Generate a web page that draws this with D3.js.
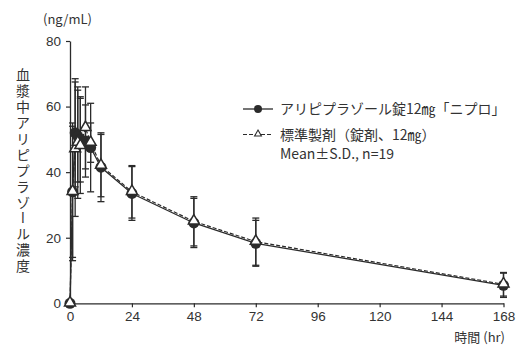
<!DOCTYPE html>
<html><head><meta charset="utf-8">
<script src="https://cdn.jsdelivr.net/npm/d3@7"></script>
<style>
html,body{margin:0;padding:0;background:#fff;}
svg text{font-family:"Noto Sans CJK JP","Noto Sans",sans-serif;fill:#333;}
</style></head>
<body>
<svg id="c" width="531" height="357"></svg>
<script>
const times = [0, 1, 2, 3, 4, 6, 8, 12, 24, 48, 72, 168];
const testMean = [0, 34, 52, 51, 50, 49.5, 47.5, 41.5, 33.5, 24.5, 18.3, 5.5];
const testSD   = [0, 20, 16.5, 14, 13, 11, 13.5, 10.5, 8.2, 7.5, 7.0, 3.7];
const refMean  = [0, 34, 47, 49, 48, 53.5, 49, 42, 34, 25, 18.8, 5.8];
const refSD    = [0, 21, 20.5, 17, 14.5, 12.5, 6, 9.5, 8, 7.5, 7.2, 3.6];
const xTicks = [0, 24, 48, 72, 96, 120, 144, 168];
const yTicks = [0, 20, 40, 60, 80];
const legendLabels = ["アリピプラゾール錠12㎎「ニプロ」", "標準製剤（錠剤、12㎎）", "Mean±S.D., n=19"];
const yTitle = "血漿中アリピプラゾール濃度";
const yUnit = "(ng/mL)";
const xTitle = "時間 (hr)";

const svg = d3.select("#c");
const ink = "#2b2b2b";
const x = d3.scaleLinear().domain([0, 168]).range([70, 503.5]);
const y = d3.scaleLinear().domain([0, 80]).range([303.3, 41]);

// axes
const gx = svg.append("g").attr("transform", `translate(0,${y(0)})`)
  .call(d3.axisBottom(x).tickValues(xTicks).tickSize(4).tickSizeOuter(0).tickPadding(4));
const gy = svg.append("g").attr("transform", `translate(${x(0)},0)`)
  .call(d3.axisLeft(y).tickValues(yTicks).tickSize(4).tickSizeOuter(0).tickPadding(5));
[gx, gy].forEach(g => {
  g.select(".domain").attr("stroke", ink).attr("stroke-width", 1.3);
  g.selectAll(".tick line").attr("stroke", ink).attr("stroke-width", 1.2);
  g.selectAll(".tick text").attr("font-size", 13.5).attr("fill", "#333")
    .style("font-family", "'Liberation Sans','Noto Sans',sans-serif");
});

const mk = (m, s) => times.map((t, i) => ({t, m: m[i], s: s[i]}));
const test = mk(testMean, testSD);
const ref = mk(refMean, refSD);

const line = d3.line().x(d => x(d.t)).y(d => y(d.m));
svg.append("path").datum(test).attr("d", line).attr("fill", "none")
  .attr("stroke", ink).attr("stroke-width", 1.3);
svg.append("path").datum(ref).attr("d", line).attr("fill", "none")
  .attr("stroke", ink).attr("stroke-width", 1.2).attr("stroke-dasharray", "4,2");

// error bars
function errbars(data) {
  const g = svg.append("g").attr("stroke", ink).attr("stroke-width", 1.3);
  data.filter(d => d.s > 0).forEach(d => {
    const cx = x(d.t);
    g.append("line").attr("x1", cx).attr("x2", cx).attr("y1", y(d.m + d.s)).attr("y2", y(d.m - d.s));
    [d.m + d.s, d.m - d.s].forEach(v => {
      g.append("line").attr("x1", cx - 3.5).attr("x2", cx + 3.5).attr("y1", y(v)).attr("y2", y(v));
    });
  });
}
errbars(test);
errbars(ref);

// markers
svg.append("g").selectAll("circle").data(test).join("circle")
  .attr("cx", d => x(d.t)).attr("cy", d => y(d.m)).attr("r", 5.5).attr("fill", ink);
const tri = d3.symbol().type(d3.symbolTriangle).size(52);
svg.append("g").selectAll("path").data(ref).join("path")
  .attr("d", tri).attr("transform", d => `translate(${x(d.t)},${y(d.m) - 0.5})`)
  .attr("fill", "#fff").attr("stroke", ink).attr("stroke-width", 1.5);

// legend
const lg = svg.append("g");
lg.append("line").attr("x1", 243).attr("x2", 273).attr("y1", 109).attr("y2", 109)
  .attr("stroke", ink).attr("stroke-width", 1.3);
lg.append("circle").attr("cx", 258).attr("cy", 109).attr("r", 4).attr("fill", ink);
lg.append("line").attr("x1", 243).attr("x2", 273).attr("y1", 134.5).attr("y2", 134.5)
  .attr("stroke", ink).attr("stroke-width", 1.1).attr("stroke-dasharray", "4,2");
lg.append("path").attr("d", d3.symbol().type(d3.symbolTriangle).size(20))
  .attr("transform", "translate(258,134)").attr("fill", "#fff").attr("stroke", ink).attr("stroke-width", 1.1);
const ly = [114, 139.5, 159];
legendLabels.forEach((t, i) => {
  lg.append("text").attr("x", 280).attr("y", ly[i]).attr("font-size", 14).text(t);
});

// titles
svg.append("text").attr("x", 43).attr("y", 24).attr("font-size", 13).text(yUnit);
svg.append("text").attr("x", 23).attr("y", 68)
  .attr("font-size", 14)
  .style("writing-mode", "vertical-rl").style("text-orientation", "upright")
  .style("letter-spacing", "1.9px")
  .text(yTitle);
svg.append("text").attr("x", 505).attr("y", 342).attr("text-anchor", "end")
  .attr("font-size", 13).text(xTitle);
</script>
</body></html>
